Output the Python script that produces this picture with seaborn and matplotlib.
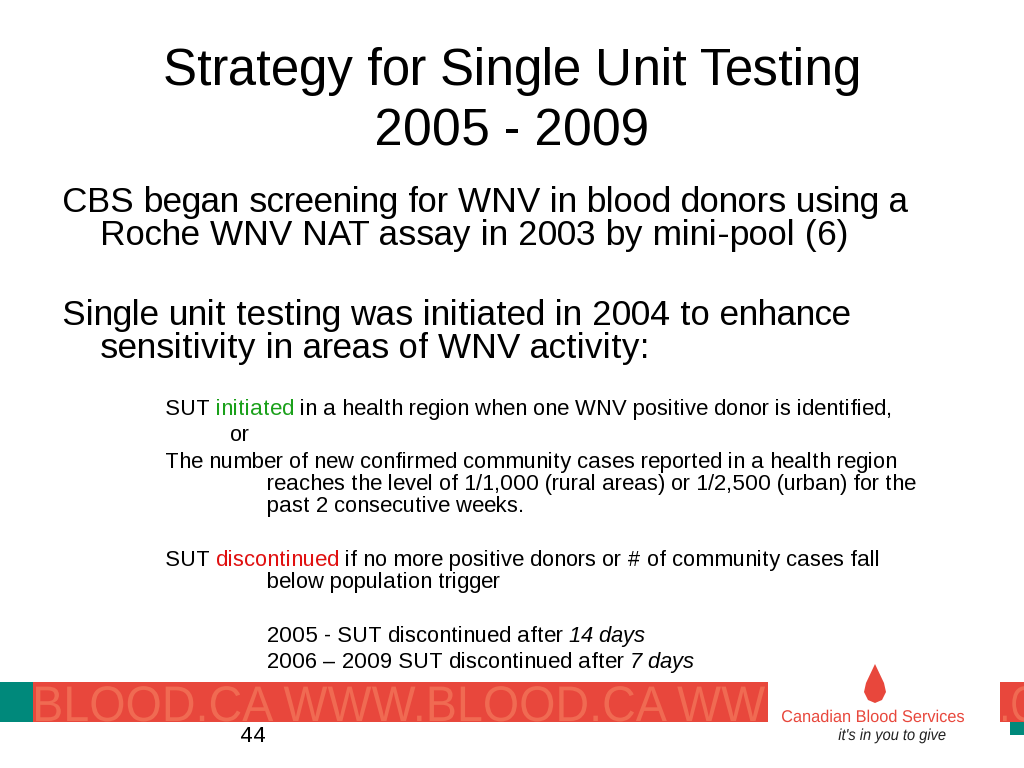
import matplotlib
matplotlib.use("Agg")
import matplotlib.pyplot as plt
import seaborn as sns
from matplotlib.patches import Rectangle, Polygon, PathPatch
from matplotlib.textpath import TextPath
from matplotlib.font_manager import FontProperties
from matplotlib.transforms import Affine2D

sns.set_theme(style="white")
plt.rcParams['font.family'] = ['Liberation Sans', 'DejaVu Sans']
plt.rcParams['text.color'] = 'black'
plt.rcParams['text.hinting_factor'] = 1

title_lines = ["Strategy for Single Unit Testing", "2005 - 2009"]
bullet1 = ["CBS began screening for WNV in blood donors using a",
           "Roche WNV NAT assay in 2003 by mini-pool (6)"]
bullet2 = ["Single unit testing was initiated in 2004 to enhance",
           "sensitivity in areas of WNV activity:"]
# each line: (x, baseline y, [(text, colour, style)])
sub_lines = [
    (165, 415, [("SUT ", "black", "normal"), ("initiated", "#1aa01a", "normal"),
                (" in a health region when one WNV positive donor is identified,", "black", "normal")]),
    (230, 441, [("or", "black", "normal")]),
    (165, 468, [("The number of new confirmed community cases reported in a health region", "black", "normal")]),
    (267, 490, [("reaches the level of 1/1,000 (rural areas) or 1/2,500 (urban) for the", "black", "normal")]),
    (267, 512, [("past 2 consecutive weeks.", "black", "normal")]),
    (165, 566, [("SUT ", "black", "normal"), ("discontinued", "#e01010", "normal"),
                (" if no more positive donors or # of community cases fall", "black", "normal")]),
    (267, 588, [("below population trigger", "black", "normal")]),
    (267, 642, [("2005 - SUT discontinued after ", "black", "normal"), ("14 days", "black", "italic")]),
    (267, 668, [("2006 \u2013 2009 SUT discontinued after ", "black", "normal"), ("7 days", "black", "italic")]),
]
banner_text = "BLOOD.CA WWW.BLOOD.CA WW"
logo_name = "Canadian Blood Services"
logo_tag = "it's in you to give"
page_number = "44"

fig = plt.figure(figsize=(10.24, 7.68), dpi=100)
ax = fig.add_axes([0, 0, 1, 1])
ax.set_xlim(0, 1024)
ax.set_ylim(768, 0)
ax.axis("off")

for i, line in enumerate(title_lines):
    ax.text(512, 85 + i * 60, line, fontsize=37, ha="center", va="baseline")

for (x, y), line in zip([(62, 212), (100, 245), (62, 325), (100, 358)], bullet1 + bullet2):
    ax.text(x, y, line, fontsize=25, va="baseline")

fig.canvas.draw()
renderer = fig.canvas.get_renderer()
inv = ax.transData.inverted()
for x, y, parts in sub_lines:
    cx = x
    for txt, col, st in parts:
        t = ax.text(cx, y, txt, fontsize=16.2, color=col, style=st, va="baseline")
        bb = t.get_window_extent(renderer)
        cx = inv.transform((bb.x1, bb.y0))[0]


def squeezed(text, x, y, size, width, color, style="normal", ha="left", clip=None):
    fp = FontProperties(family="Liberation Sans", style=style)
    tp = TextPath((0, 0), text, size=size, prop=fp)
    ext = tp.get_extents()
    sx = width / ext.width if width else 1.0
    x0 = x - (ext.width * sx / 2 if ha == "center" else 0) - ext.x0 * sx
    path = Affine2D().scale(sx, -1).translate(x0, y).transform_path(tp)
    pp = PathPatch(path, color=color, lw=0)
    ax.add_patch(pp)
    if clip is not None:
        pp.set_clip_path(clip)


# banner
red = "#e8473c"
teal = "#00897b"
ax.add_patch(Rectangle((0, 682), 33, 40, color=teal, lw=0))
ax.add_patch(Rectangle((33, 682), 735, 40, color=red, lw=0))
squeezed(banner_text, 36, 721, 50, 729, "#f06a52")
band2 = Rectangle((1000, 682), 24, 40, color=red, lw=0)
ax.add_patch(band2)
squeezed(".C", 1003, 721, 50, 34, "#f06a52", clip=band2)
ax.add_patch(Rectangle((1010, 722), 14, 13, color=teal, lw=0))

# logo
ax.add_patch(Polygon([(875, 664), (866, 683), (864, 692), (868, 700), (875, 703),
                      (882, 700), (886, 692), (884, 683)], closed=True, color=red, lw=0))
squeezed(logo_name, 873, 722, 17, 182, red, ha="center")
squeezed(logo_tag, 892, 740, 16, 107, "#222222", style="italic", ha="center")

ax.text(240, 742, page_number, fontsize=16.2, va="baseline")

fig.savefig("out.png", dpi=100)
